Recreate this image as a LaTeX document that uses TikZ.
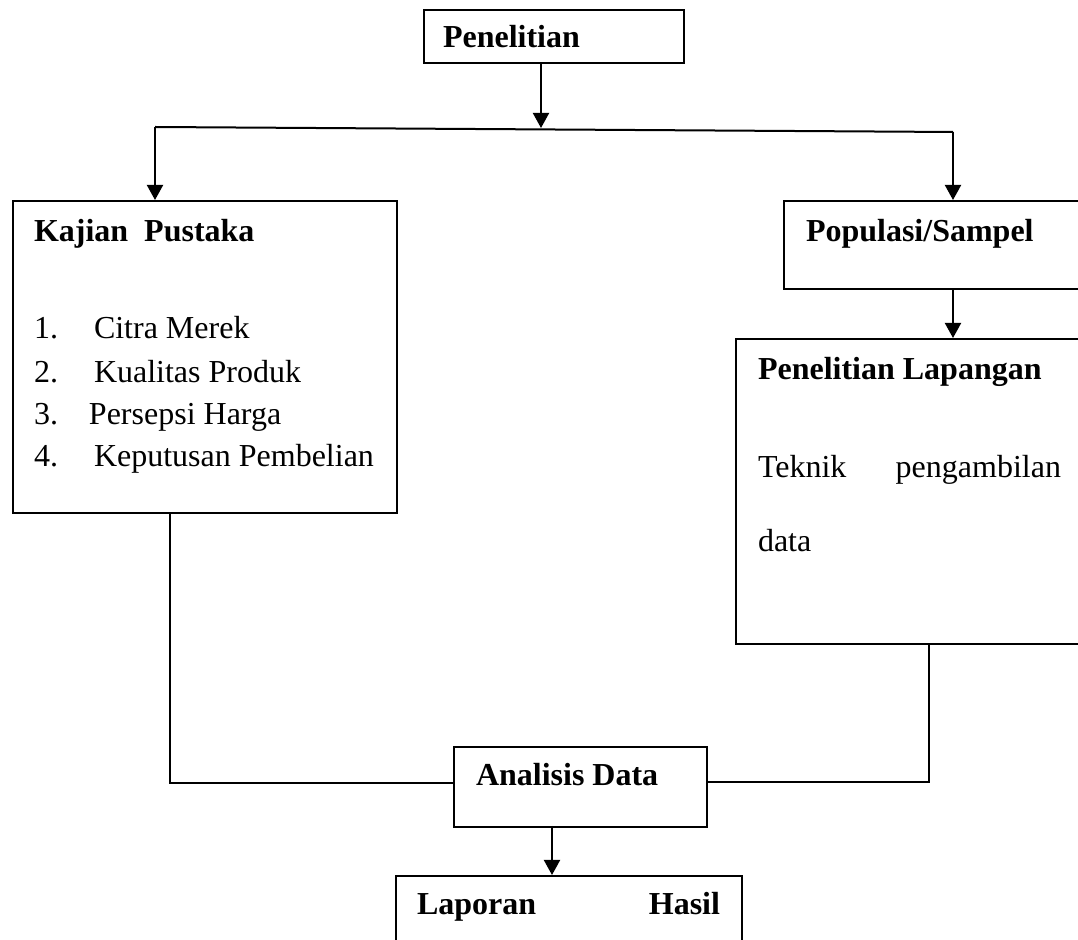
\documentclass[tikz,border=0pt]{standalone}
\usepackage{fontspec}
\setmainfont{Liberation Serif}
\usetikzlibrary{arrows.meta, positioning}

\begin{document}
\begin{tikzpicture}[
    x=0.5pt,
    y=-0.5pt,
    line width=1pt,
    >={Triangle[width=8pt,length=7.5pt]},
    kotak/.style={draw, rectangle, anchor=north west, inner sep=0pt, line width=1pt},
    teks/.style={anchor=base west, inner sep=0pt, font=\fontsize{16}{19}\selectfont},
]
    \clip (0,0) rectangle (1078,940);

    % kotak
    \node[kotak, minimum width=130pt,   minimum height=26.5pt] (pen) at (423,9)   {};
    \node[kotak, minimum width=192pt,   minimum height=156pt]  (kaj) at (12,200)  {};
    \node[kotak, minimum width=158.5pt, minimum height=44pt]   (pop) at (783,200) {};
    \node[kotak, minimum width=182.5pt, minimum height=152.5pt](lap) at (735,338) {};
    \node[kotak, minimum width=126.5pt, minimum height=40pt]   (ana) at (453,746) {};
    \node[kotak, minimum width=173pt,   minimum height=42.5pt] (lhs) at (395,875) {};

    % teks
    \node[teks] (tpen) at (442,48)  {\textbf{Penelitian}};
    \node[teks] (tkaj) at (33,242)  {\textbf{Kajian~~Pustaka}};
    \node[teks] (tpop) at (805,242) {\textbf{Populasi/Sampel}};
    \node[teks] (tlap) at (757,380) {\textbf{Penelitian Lapangan}};
    \node[teks] (ttek) at (757,478) {\makebox[151.5pt][s]{Teknik pengambilan}};
    \node[teks] (tdat) at (757,552) {data};
    \node[teks] (tana) at (475,786) {\textbf{Analisis Data}};
    \node[teks] (tlhs) at (416,915) {\makebox[151.5pt][s]{\textbf{Laporan Hasil}}};

    \foreach \n/\y/\dx/\t in {1/339/93/Citra Merek, 2/383/93/Kualitas Produk,
                              3/425/88/Persepsi Harga, 4/467/93/Keputusan Pembelian} {
        \node[teks] (no\n)   at (33,\y)  {\n.};
        \node[teks] (item\n) at (\dx,\y) {\t};
    }

    % garis
    \coordinate (cab) at (541,128);
    \coordinate (kir) at (155,127);
    \coordinate (kan) at (953,132);
    \coordinate (kbw) at (170,783);
    \coordinate (nbw) at (929,782);
    \coordinate (abw) at (552,826);

    \draw[->] (pen.south -| cab) -- (cab);
    \draw (kir) -- (kan);
    \draw[->] (kir) -- (kaj.north -| kir);
    \draw[->] (kan) -- (pop.north -| kan);
    \draw[->] (pop.south -| kan) -- (lap.north -| kan);
    \draw (kaj.south -| kbw) -- (kbw) -- (ana.west |- kbw);
    \draw (lap.south -| nbw) -- (nbw) -- (ana.east |- nbw);
    \draw[->] (abw) -- (lhs.north -| abw);
\end{tikzpicture}
\end{document}
